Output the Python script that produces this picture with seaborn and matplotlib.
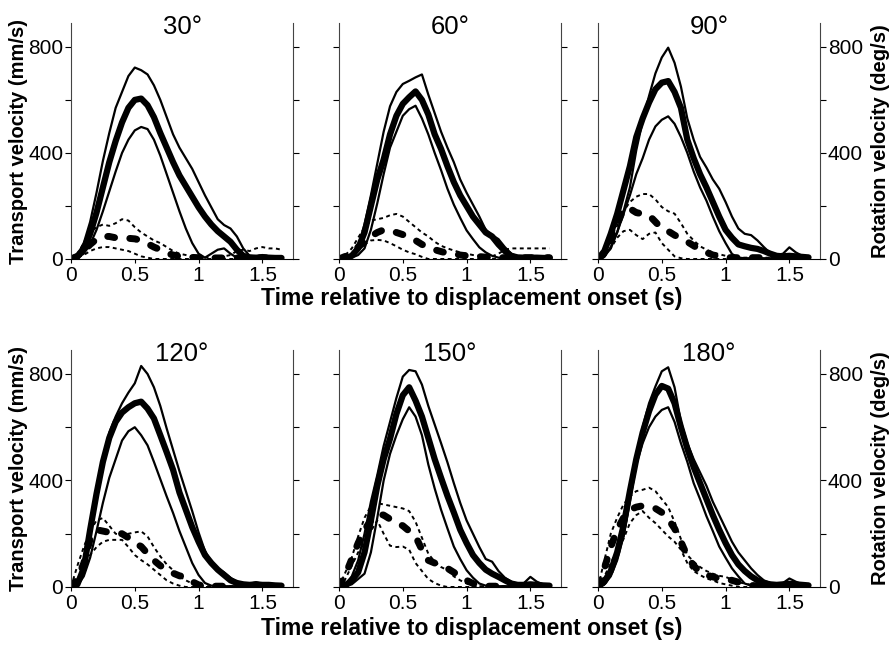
import matplotlib
matplotlib.use("Agg")
import matplotlib.pyplot as plt
import seaborn as sns
import pandas as pd

sns.set_style("ticks")
plt.rcParams['font.family'] = ['Liberation Sans', 'DejaVu Sans']
plt.rcParams['text.color'] = 'black'
plt.rcParams['axes.labelcolor'] = 'black'
plt.rcParams['xtick.color'] = 'black'
plt.rcParams['ytick.color'] = 'black'

TIME = [0.00, 0.05, 0.10, 0.15, 0.20, 0.25, 0.30, 0.35, 0.40, 0.45,
        0.50, 0.55, 0.60, 0.65, 0.70, 0.75, 0.80, 0.85, 0.90, 0.95,
        1.00, 1.05, 1.10, 1.15, 1.20, 1.25, 1.30, 1.35, 1.40, 1.45,
        1.50, 1.55, 1.60, 1.65]

ANGLES = ["30°", "60°", "90°", "120°", "150°", "180°"]

# Transport velocity (mm/s): upper bound, mean, lower bound
T30_up = [0, 12, 60, 140, 250, 370, 475, 570, 630, 690, 722, 712, 696, 655, 600, 535, 470, 420, 380, 340, 290, 240, 195, 150, 128, 115, 85, 40, 12, 10, 15, 10, 8, 6]
T30_mean = [0, 10, 40, 95, 175, 270, 365, 445, 515, 570, 600, 605, 580, 535, 475, 420, 365, 315, 275, 235, 195, 160, 130, 105, 85, 65, 35, 12, 6, 5, 6, 5, 4, 4]
T30_lo = [0, 5, 20, 55, 110, 180, 255, 330, 400, 450, 485, 498, 490, 450, 390, 320, 250, 180, 115, 60, 20, 5, 20, 35, 40, 20, 5, 3, 5, 3, 5, 3, 3, 3]

T60_up = [0, 5, 15, 50, 130, 240, 360, 480, 576, 630, 660, 672, 685, 696, 620, 550, 480, 420, 365, 300, 250, 205, 160, 110, 90, 75, 45, 20, 10, 8, 8, 6, 6, 5]
T60_mean = [0, 3, 12, 40, 100, 200, 300, 375, 470, 540, 585, 610, 632, 600, 545, 470, 415, 350, 290, 240, 200, 160, 130, 100, 85, 55, 30, 12, 6, 5, 5, 5, 4, 4]
T60_lo = [0, 2, 5, 15, 40, 110, 210, 320, 420, 480, 540, 565, 578, 530, 470, 400, 335, 265, 205, 155, 108, 75, 44, 25, 12, 5, 3, 3, 3, 3, 3, 3, 3, 3]

T90_up = [0, 10, 45, 100, 180, 270, 410, 520, 615, 700, 760, 797, 740, 650, 530, 450, 385, 345, 300, 265, 215, 160, 115, 95, 90, 70, 45, 22, 15, 20, 44, 25, 12, 8]
T90_mean = [0, 30, 95, 170, 260, 350, 460, 530, 590, 640, 665, 671, 630, 570, 450, 380, 320, 270, 215, 160, 110, 80, 55, 48, 42, 38, 30, 20, 12, 10, 12, 10, 8, 6]
T90_lo = [0, 10, 40, 100, 170, 240, 320, 380, 450, 500, 525, 538, 510, 460, 400, 330, 270, 220, 160, 105, 60, 19, 5, 3, 3, 3, 3, 3, 3, 3, 3, 3, 3, 3]

T120_up = [0, 20, 89, 190, 330, 468, 580, 640, 690, 730, 765, 830, 800, 750, 680, 595, 515, 435, 360, 285, 205, 135, 95, 70, 55, 35, 20, 15, 12, 18, 12, 10, 8, 6]
T120_mean = [0, 10, 70, 215, 350, 470, 560, 620, 655, 675, 690, 696, 670, 633, 570, 506, 440, 355, 290, 225, 170, 120, 90, 65, 45, 25, 15, 10, 8, 10, 8, 8, 6, 5]
T120_lo = [0, 5, 40, 110, 210, 316, 410, 480, 550, 585, 600, 570, 532, 470, 405, 340, 278, 210, 150, 90, 45, 15, 5, 3, 3, 3, 3, 3, 3, 3, 3, 3, 3, 3]

T150_up = [0, 10, 40, 100, 200, 320, 420, 530, 620, 710, 790, 815, 810, 760, 680, 610, 540, 468, 390, 316, 250, 200, 150, 105, 95, 60, 35, 20, 12, 15, 38, 20, 10, 8]
T150_mean = [0, 5, 25, 55, 130, 250, 380, 480, 557, 650, 720, 750, 700, 640, 560, 480, 410, 342, 280, 215, 165, 120, 90, 65, 50, 38, 25, 13, 8, 8, 10, 8, 6, 5]
T150_lo = [0, 3, 10, 30, 50, 130, 260, 400, 500, 570, 630, 675, 640, 570, 460, 370, 290, 220, 152, 105, 63, 35, 13, 5, 3, 3, 3, 3, 3, 3, 3, 3, 3, 3]

T180_up = [0, 10, 50, 120, 190, 330, 460, 600, 690, 753, 810, 825, 750, 620, 540, 480, 430, 380, 320, 270, 220, 170, 130, 100, 70, 45, 25, 15, 10, 15, 32, 20, 10, 8]
T180_mean = [0, 20, 60, 130, 230, 360, 480, 580, 660, 722, 755, 745, 690, 600, 520, 450, 390, 330, 270, 215, 165, 120, 85, 60, 40, 25, 15, 10, 8, 10, 12, 10, 8, 6]
T180_lo = [0, 10, 40, 100, 190, 320, 460, 540, 600, 640, 665, 675, 620, 540, 470, 390, 330, 266, 210, 152, 110, 70, 40, 13, 5, 3, 3, 3, 3, 3, 3, 3, 3, 3]

# Rotation velocity (deg/s): upper bound, mean, lower bound
R30_up = [0, 20, 60, 100, 120, 130, 125, 135, 150, 145, 120, 100, 85, 70, 60, 45, 30, 20, 15, 10, 8, 5, 5, 5, 10, 15, 30, 35, 30, 40, 45, 40, 40, 35]
R30_mean = [0, 10, 30, 55, 75, 85, 85, 80, 78, 78, 76, 70, 58, 45, 35, 22, 15, 10, 8, 6, 5, 5, 4, 4, 4, 4, 4, 4, 4, 4, 4, 4, 4, 4]
R30_lo = [0, 5, 15, 30, 40, 45, 45, 40, 35, 30, 20, 10, 5, 0, 0, 0, 0, 0, 0, 0, 0, 0, 0, 0, 0, 0, 0, 0, 0, 0, 0, 0, 0, 0]

R60_up = [0, 15, 40, 80, 120, 145, 150, 155, 165, 170, 160, 140, 120, 100, 85, 65, 50, 40, 32, 25, 20, 15, 12, 10, 10, 20, 35, 40, 40, 40, 40, 40, 40, 40]
R60_mean = [0, 10, 25, 45, 65, 85, 100, 110, 108, 100, 92, 85, 70, 55, 44, 35, 28, 22, 19, 15, 12, 10, 9, 7, 6, 5, 5, 5, 5, 5, 5, 5, 5, 5]
R60_lo = [0, 5, 15, 35, 55, 70, 72, 70, 60, 48, 35, 25, 18, 8, 0, 0, 0, 0, 0, 0, 0, 0, 0, 0, 0, 0, 0, 0, 0, 0, 0, 0, 0, 0]

R90_up = [0, 32, 80, 125, 180, 215, 235, 245, 245, 225, 196, 180, 171, 135, 95, 70, 48, 35, 25, 18, 12, 8, 5, 5, 5, 5, 5, 5, 5, 5, 5, 5, 5, 5]
R90_mean = [0, 20, 75, 130, 190, 190, 175, 170, 165, 140, 115, 105, 90, 78, 65, 50, 35, 25, 15, 10, 6, 5, 5, 5, 5, 5, 5, 5, 5, 5, 5, 5, 5, 5]
R90_lo = [0, 10, 40, 80, 105, 110, 90, 75, 95, 100, 60, 35, 10, 3, 0, 0, 0, 0, 0, 0, 0, 0, 0, 0, 0, 0, 0, 0, 0, 0, 0, 0, 0, 0]

R120_up = [0, 80, 150, 210, 250, 259, 230, 200, 195, 200, 205, 209, 190, 150, 115, 85, 63, 40, 25, 13, 5, 3, 3, 3, 3, 3, 3, 3, 3, 3, 3, 3, 3, 3]
R120_mean = [0, 30, 89, 180, 215, 210, 205, 203, 200, 185, 165, 152, 125, 100, 80, 65, 52, 42, 38, 20, 8, 3, 3, 3, 3, 3, 3, 3, 3, 3, 3, 3, 3, 3]
R120_lo = [0, 15, 60, 120, 150, 170, 177, 177, 177, 150, 120, 101, 85, 65, 45, 25, 13, 5, 0, 0, 0, 0, 0, 0, 0, 0, 0, 0, 0, 0, 0, 0, 0, 0]

R150_up = [0, 55, 110, 190, 260, 304, 315, 310, 305, 300, 295, 285, 245, 185, 125, 95, 75, 63, 40, 25, 13, 5, 3, 3, 3, 3, 3, 3, 3, 3, 3, 3, 3, 3]
R150_mean = [0, 45, 105, 165, 215, 250, 275, 270, 255, 240, 230, 210, 190, 140, 100, 90, 80, 70, 55, 40, 25, 13, 6, 3, 3, 3, 3, 3, 3, 3, 3, 3, 3, 3]
R150_lo = [0, 30, 80, 130, 165, 210, 250, 200, 155, 150, 152, 140, 90, 60, 30, 15, 5, 0, 0, 0, 0, 0, 0, 0, 0, 0, 0, 0, 0, 0, 0, 0, 0, 0]

R180_up = [0, 100, 200, 260, 310, 340, 360, 365, 373, 360, 330, 300, 245, 180, 120, 95, 75, 60, 50, 42, 38, 28, 18, 13, 8, 5, 3, 3, 3, 3, 3, 3, 3, 3]
R180_mean = [0, 70, 150, 215, 260, 290, 300, 305, 300, 295, 280, 255, 220, 170, 115, 80, 55, 45, 38, 32, 28, 25, 18, 10, 6, 4, 4, 4, 4, 4, 4, 4, 4, 4]
R180_lo = [0, 40, 89, 140, 180, 240, 270, 285, 260, 240, 215, 190, 170, 140, 90, 60, 45, 32, 25, 15, 10, 5, 0, 0, 0, 0, 0, 0, 0, 0, 0, 0, 0, 0]

PANELS = [
    (T30_up, T30_mean, T30_lo, R30_up, R30_mean, R30_lo),
    (T60_up, T60_mean, T60_lo, R60_up, R60_mean, R60_lo),
    (T90_up, T90_mean, T90_lo, R90_up, R90_mean, R90_lo),
    (T120_up, T120_mean, T120_lo, R120_up, R120_mean, R120_lo),
    (T150_up, T150_mean, T150_lo, R150_up, R150_mean, R150_lo),
    (T180_up, T180_mean, T180_lo, R180_up, R180_mean, R180_lo),
]

YTICKS = [0, 200, 400, 600, 800]
YTICKLABELS = ["0", "", "400", "", "800"]
XTICKS = [0, 0.5, 1, 1.5]
XTICKLABELS = ["0", "0.5", "1", "1.5"]

W, H = 893, 645
fig = plt.figure(figsize=(W / 100, H / 100), dpi=100)
fig.patch.set_facecolor("white")

col_left = [71, 339, 598]
row_top = [23, 350]
row_bot = [259, 587]
aw = 222

for i, (angle, series) in enumerate(zip(ANGLES, PANELS)):
    r, c = divmod(i, 3)
    ax = fig.add_axes([col_left[c] / W, 1 - row_bot[r] / H, aw / W,
                       (row_bot[r] - row_top[r]) / H])
    t_up, t_mean, t_lo, r_up, r_mean, r_lo = series
    thin_dot = dict(color="black", lw=1.4, linestyle=(0, (2.0, 1.8)))
    sns.lineplot(x=TIME, y=r_up, ax=ax, estimator=None, errorbar=None, **thin_dot)
    sns.lineplot(x=TIME, y=r_lo, ax=ax, estimator=None, errorbar=None, **thin_dot)
    sns.lineplot(x=TIME, y=r_mean, ax=ax, estimator=None, errorbar=None,
                 color="black", lw=5.0, linestyle=(0, (1.0, 2.2)),
                 dash_capstyle="round")
    sns.lineplot(x=TIME, y=t_up, ax=ax, estimator=None, errorbar=None,
                 color="black", lw=1.6)
    sns.lineplot(x=TIME, y=t_lo, ax=ax, estimator=None, errorbar=None,
                 color="black", lw=1.6)
    sns.lineplot(x=TIME, y=t_mean, ax=ax, estimator=None, errorbar=None,
                 color="black", lw=4.5, solid_capstyle="round")

    ax.set_xlim(0, 1.74)
    ax.set_ylim(0, 890)
    ax.set_facecolor("white")
    for side in ["left", "right", "bottom"]:
        ax.spines[side].set_visible(True)
        ax.spines[side].set_color("black")
        ax.spines[side].set_linewidth(0.8)
    ax.spines["top"].set_visible(False)
    ax.spines["left"].set_color("#444444")
    ax.spines["right"].set_color("#444444")

    ax.set_yticks(YTICKS)
    ax.set_yticklabels(YTICKLABELS)
    ax.set_xticks(XTICKS)
    ax.set_xticklabels(XTICKLABELS)
    ax.tick_params(axis="y", which="both", direction="out", length=4, width=0.8,
                   left=True, right=True, labelleft=(c == 0), labelright=(c == 2),
                   labelsize=15, pad=1.5, colors="black")
    ax.tick_params(axis="x", direction="out", length=3, width=0.8,
                   labelsize=15, pad=2, colors="black")
    ax.set_xlabel("")
    ax.set_ylabel("")
    ax.text(0.5, 0.955, angle, transform=ax.transAxes, ha="center",
            va="baseline", fontsize=18.5, color="black")

for r in range(2):
    cy = 1 - (row_top[r] + row_bot[r]) / 2 / H
    fig.text(19 / W, cy, "Transport velocity (mm/s)", rotation=90,
             ha="center", va="center", fontsize=14.5, fontweight="bold",
             color="black")
    fig.text(881 / W, cy, "Rotation velocity (deg/s)", rotation=90,
             ha="center", va="center", fontsize=14.5, fontweight="bold",
             color="black")
    xy = [298, 628][r]
    fig.text(472 / W, 1 - xy / H, "Time relative to displacement onset (s)",
             ha="center", va="center", fontsize=16.5, fontweight="bold",
             color="black")

fig.savefig("out.png", dpi=100, facecolor="white")
